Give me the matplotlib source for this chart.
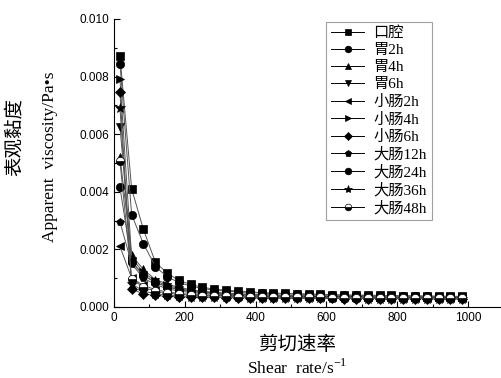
import numpy as np
import matplotlib.pyplot as plt
from matplotlib.ticker import MultipleLocator

# shear rate (s^-1)
shear_rate = [17, 50, 83, 117, 150, 183, 217, 250, 283, 317, 350, 383, 417, 450, 483,
              517, 550, 583, 617, 650, 683, 717, 750, 783, 817, 850, 883, 917, 950, 983]

labels = ['口腔', '胃2h', '胃4h', '胃6h', '小肠2h', '小肠4h', '小肠6h',
          '大肠12h', '大肠24h', '大肠36h', '大肠48h']

# apparent viscosity, x1e-3 Pa*s
kouqiang = [8.7, 4.1, 2.7, 1.55, 1.18, 0.92, 0.78, 0.68, 0.62, 0.58, 0.55, 0.52, 0.50, 0.48, 0.47,
            0.46, 0.45, 0.44, 0.43, 0.42, 0.41, 0.41, 0.40, 0.40, 0.39, 0.39, 0.38, 0.38, 0.37, 0.37]
wei2h = [8.45, 3.2, 2.2, 1.4, 1.05, 0.85, 0.72, 0.64, 0.58, 0.55, 0.52, 0.50, 0.48, 0.46, 0.45,
         0.44, 0.43, 0.42, 0.41, 0.40, 0.40, 0.39, 0.39, 0.38, 0.38, 0.37, 0.37, 0.36, 0.36, 0.36]
wei4h = [5.2, 1.8, 1.3, 0.95, 0.8, 0.68, 0.6, 0.55, 0.51, 0.48, 0.46, 0.44, 0.42, 0.41, 0.40,
         0.39, 0.38, 0.38, 0.37, 0.37, 0.36, 0.36, 0.35, 0.35, 0.35, 0.34, 0.34, 0.34, 0.33, 0.33]
wei6h = [6.25, 1.6, 1.1, 0.85, 0.7, 0.6, 0.54, 0.5, 0.47, 0.45, 0.43, 0.42, 0.41, 0.40, 0.39,
         0.38, 0.37, 0.37, 0.36, 0.36, 0.35, 0.35, 0.35, 0.34, 0.34, 0.34, 0.33, 0.33, 0.33, 0.33]
xiaochang2h = [2.1, 1.0, 0.75, 0.6, 0.52, 0.47, 0.44, 0.42, 0.40, 0.39, 0.38, 0.37, 0.36, 0.36, 0.35,
               0.35, 0.34, 0.34, 0.34, 0.33, 0.33, 0.33, 0.33, 0.32, 0.32, 0.32, 0.32, 0.32, 0.31, 0.31]
xiaochang4h = [7.9, 1.7, 1.2, 0.9, 0.75, 0.64, 0.57, 0.52, 0.49, 0.46, 0.44, 0.43, 0.42, 0.41, 0.40,
               0.39, 0.38, 0.38, 0.37, 0.37, 0.36, 0.36, 0.35, 0.35, 0.35, 0.34, 0.34, 0.34, 0.34, 0.33]
xiaochang6h = [7.45, 0.62, 0.45, 0.4, 0.37, 0.35, 0.34, 0.33, 0.33, 0.32, 0.32, 0.31, 0.31, 0.31, 0.30,
               0.30, 0.30, 0.30, 0.30, 0.29, 0.29, 0.29, 0.29, 0.29, 0.29, 0.28, 0.28, 0.28, 0.28, 0.28]
dachang12h = [2.95, 1.5, 1.0, 0.78, 0.63, 0.55, 0.5, 0.46, 0.44, 0.42, 0.41, 0.40, 0.39, 0.38, 0.37,
              0.37, 0.36, 0.36, 0.35, 0.35, 0.35, 0.34, 0.34, 0.34, 0.33, 0.33, 0.33, 0.33, 0.32, 0.32]
dachang24h = [4.15, 1.55, 1.1, 0.85, 0.7, 0.6, 0.54, 0.5, 0.47, 0.45, 0.43, 0.42, 0.41, 0.40, 0.39,
              0.38, 0.38, 0.37, 0.37, 0.36, 0.36, 0.35, 0.35, 0.35, 0.34, 0.34, 0.34, 0.34, 0.33, 0.33]
dachang36h = [6.9, 0.8, 0.55, 0.46, 0.41, 0.38, 0.36, 0.35, 0.34, 0.33, 0.33, 0.32, 0.32, 0.31, 0.31,
              0.31, 0.30, 0.30, 0.30, 0.30, 0.30, 0.29, 0.29, 0.29, 0.29, 0.29, 0.29, 0.28, 0.28, 0.28]
dachang48h = [5.05, 0.98, 0.68, 0.55, 0.48, 0.44, 0.41, 0.39, 0.38, 0.37, 0.36, 0.35, 0.35, 0.34, 0.34,
              0.33, 0.33, 0.33, 0.32, 0.32, 0.32, 0.32, 0.31, 0.31, 0.31, 0.31, 0.31, 0.30, 0.30, 0.30]

series = [kouqiang, wei2h, wei4h, wei6h, xiaochang2h, xiaochang4h, xiaochang6h,
          dachang12h, dachang24h, dachang36h, dachang48h]
markers = ['s', 'o', '^', 'v', '<', '>', 'D', 'p', 'o', '*', 'o']

serif = ['Liberation Serif', 'Noto Sans CJK SC']

fig = plt.figure(figsize=(5.02, 3.78), dpi=100)
ax = fig.add_axes([0.227, 0.188, 0.769, 0.762])

for vals, m, lab in zip(series, markers, labels):
    y = np.array(vals) * 1e-3
    kw = dict(marker=m, color='#555555', lw=0.7, markersize=6,
              markerfacecolor='black', markeredgecolor='black', markeredgewidth=0.5, label=lab)
    if m == 'D':
        kw['markersize'] = 5
    if m == '*':
        kw['markersize'] = 7.5
    if lab == '大肠48h':
        kw.update(fillstyle='bottom', markerfacecoloralt='white')
    ax.plot(shear_rate, y, **kw)

ax.set_xlim(0, 1090)
ax.set_ylim(0, 0.010)
ax.xaxis.set_major_locator(MultipleLocator(200))
ax.xaxis.set_minor_locator(MultipleLocator(100))
ax.yaxis.set_major_locator(MultipleLocator(0.002))
ax.yaxis.set_minor_locator(MultipleLocator(0.001))
ax.yaxis.set_major_formatter(plt.FormatStrFormatter('%.3f'))
ax.tick_params(which='both', direction='in', labelsize=8.5, width=0.8)
ax.tick_params(which='major', length=4)
ax.tick_params(which='minor', length=2)
for lbl in ax.get_xticklabels() + ax.get_yticklabels():
    lbl.set_family('Liberation Sans')
ax.spines['top'].set_visible(False)
ax.spines['right'].set_visible(False)

leg = ax.legend(loc='upper left', bbox_to_anchor=(0.53, 1.016), frameon=True, fancybox=False,
                edgecolor='#888888', prop={'family': serif, 'size': 11},
                handlelength=2.2, labelspacing=0.22, borderpad=0.3, handletextpad=0.6,
                markerscale=0.8)
leg.get_frame().set_linewidth(0.8)
for h in leg.legend_handles:
    h.set_color('black')

fig.text(0.03, 0.637, '表观黏度', rotation=90, ha='center', va='center', family=serif, fontsize=14)
fig.text(0.1, 0.585, 'Apparent  viscosity/Pa•s', rotation=90, ha='center', va='center',
         family=serif, fontsize=12.5)
fig.text(0.592, 0.088, '剪切速率', ha='center', va='center', family=serif, fontsize=14)
fig.text(0.592, 0.025, 'Shear  rate/s$^{\\mathregular{-1}}$', ha='center', va='center',
         family=serif, fontsize=12.5)

fig.savefig('out.png', dpi=100)
